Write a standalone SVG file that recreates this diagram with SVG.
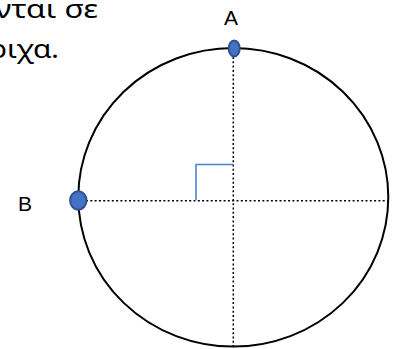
<svg xmlns="http://www.w3.org/2000/svg" width="398" height="349" viewBox="0 0 398 349">
<style>
.greek{font-family:"Noto Sans","Open Sans","DejaVu Sans",sans-serif;font-size:25px;fill:#000}
.lbl{font-family:"Liberation Sans",Arial,sans-serif;font-size:21px;fill:#000;text-anchor:middle}
.guide{fill:none;stroke:#000;stroke-width:1.5;stroke-dasharray:2 2.3}
.pt{fill:#4472C4;stroke:#2F528F;stroke-width:2}
</style>
<g id="caption">
<text class="greek" x="-5" y="18" textLength="103" lengthAdjust="spacingAndGlyphs">νται σε</text>
<text class="greek" x="-11" y="58" textLength="70" lengthAdjust="spacingAndGlyphs">οιχα.</text>
</g>
<g id="circle">
<ellipse cx="233.3" cy="197.3" rx="155" ry="149.3" fill="none" stroke="#000" stroke-width="2"/>
</g>
<g id="connectors">
<line class="guide" x1="233.3" y1="57" x2="233.3" y2="346"/>
<line class="guide" x1="86" y1="200.7" x2="388" y2="200.7"/>
<polyline points="196,200 196,164.5 233.3,164.5" fill="none" stroke="#4F81D0" stroke-width="1.6"/>
</g>
<g id="node-A">
<ellipse class="pt" cx="234.2" cy="48.5" rx="5.5" ry="8"/>
<text class="lbl" x="231" y="25">A</text>
</g>
<g id="node-B">
<ellipse class="pt" cx="78.3" cy="200.5" rx="8.2" ry="9.2"/>
<text class="lbl" x="25" y="211">B</text>
</g>
</svg>
